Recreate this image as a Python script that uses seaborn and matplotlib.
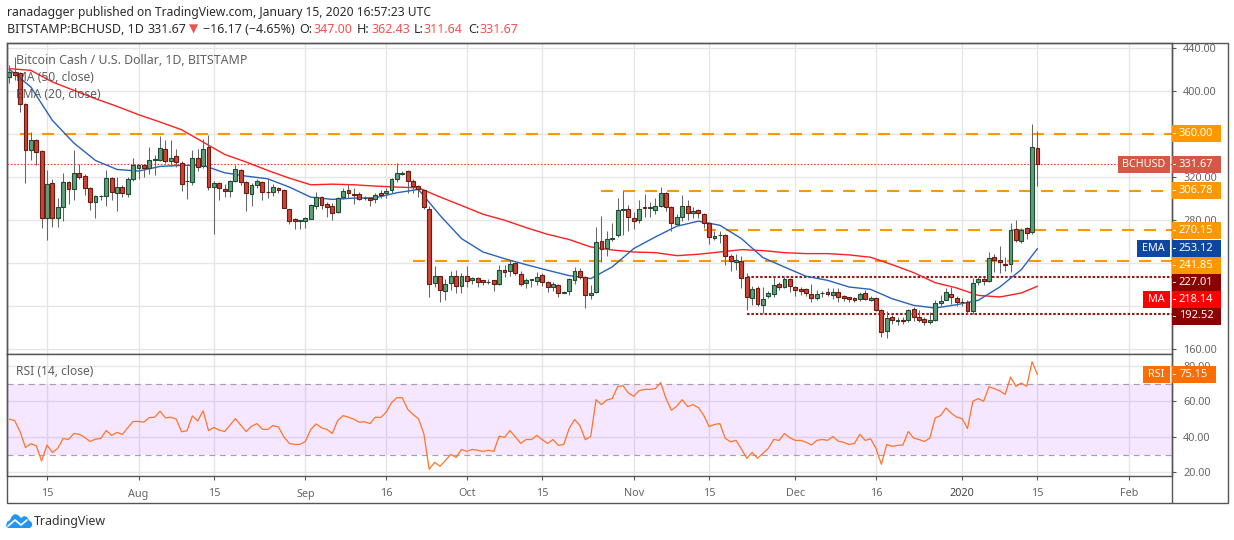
import numpy as np
import pandas as pd
import seaborn as sns
import matplotlib
matplotlib.use('Agg')
from matplotlib import pyplot as plt
import matplotlib.dates as mdates
from matplotlib.patches import Rectangle, Polygon

first_day = '2019-07-08'

opens = [413,418,417,388,345,354,344,282,314,282,292,315,309,324,321,310,297,302,302,319,305,311,304,318,328,331,328,336,336,346,
         335,339,333,316,315,338,330,348,311,314,309,307,316,326,315,304,312.5,315,306,306,310,308,290,281,279,279,281,293,301,295,
         293,287,301,308,304,304,300,300,299,305,305,308,318,323,325,316,311.5,307.5,290.5,221,227.6,213.7,221,227.6,218.4,227.6,224,226,223.5,222,
         223.5,220,233,232,240,229.5,221,224,223,229,222,217,219.6,212,213.7,224.3,232.6,227,210,213,260.6,254,262,266,289.5,290,282,280,
         291.5,291,289.5,293,305,292,276.5,283,293,286,289.5,285,277.4,263,265.7,266,246.6,240.7,242,226.4,207.5,216.8,200.6,209,210.9,220.5,217.4,225.2,
         217,215.2,215.8,211,207.5,211.5,213,210,213,208.7,207.8,206.8,206.5,212,205.6,207.5,196.3,176.4,189.8,186,186.6,186.6,197.2,189.8,187.6,185,
         187,202.5,205.6,211,207.5,203.7,203.7,195,222,225.2,223,245.4,243,239.2,239.2,271.5,260,272.4,268.9,347]
closes = [418,415,388,345,354,343,282,313,282,292,315,309,324,320,310,297,302,302.5,319,306,311,305,318,331,331,328,336,336.5,347,335,
          338,334,313,316.5,338,329,346,311,314,310,307,316,327,315,305,312.5,316.5,306,305.5,311,308,291,279,279,279.5,282,294,301,294,292,
          286,300,307,305,303,299.5,300,298,303,303,307,318,324,324,316.3,311.5,308.5,292,220.5,227.6,215,220.5,227.6,218.4,227.6,223,226,222,222,222.5,
          220,233,231,239,230.5,220,224,224.5,227,222,217.7,220.5,212,213,225,232.6,226.7,210,212,259.7,253,262,263.4,289.5,290,283,279,290.5,
          291,291.5,293,305,292,277,283,293,286.5,288.6,286.5,277.4,264,265.3,266,246,241.7,242.9,225.8,208,215.9,201.3,206.5,212,219.6,217.4,225.2,218.3,
          214.6,214,212,207.5,211,212,211,213,208,207.5,206.5,205.6,211,206.2,207.5,196.3,175.8,188.8,186.6,186.5,186,196.3,189.8,187,185.1,187,
          202.8,204.7,213,208,203.4,203.4,195,221.5,225.2,223,244.8,242.3,240.7,238,270.9,261.6,270.9,268,348.1,331.67]
highs = [424,432,418,389,362,355,345,326,318,300,324,316,345,332,323,311,303,303,326,320,320,312,320,338,332,332,348,340,358,354,
         354,346,335,330,345,346,355,359,316,315,313,317,331,327,316,314,318,316,318,313,311,309,290,282,280,283,295,306,302,297,
         296,301,310,313,310,306,302,301,305,308,310,319,333,325,326,318,312,308,293,237,228,225,232,233,230,237,227,227,224,225,
         224,238,238,243,241,232,226,225,231,230,223,222,220,214,226,236,235,228,219,273,284,270,277,300,307,294,287,298,
         304,297,300,311,306,293,285,303,298,292,290,286,278,270,270,267,248,248,246,230,218,218,217,214,227,222,227,226,
         218,217,216,220,215,214,216,216,216,210,208,208,213,215,209,208,197,195,191,189,189,197,199,196,189,194,
         205,210,216,217,209,207,205,226,227,227,250,248,256,245,277,280,272,273,369,362.43]
lows = [407,410,380,314,336,331,272,261,273,273,279,295,298,318,303,289,282,298,293,298,288,301,301,316,318,320,323,322,335,333,
        330,329,307,299,312,325,328,308,267,298,301,301,315,312,288,293,310,298,300,302,305,291,276,271,271,272,281,290,290,283,
        280,286,299,300,295,298,298,293,296,300,300,305,315,322,305,305,301,290.5,208,217,203,205,215,212,212,217,220,217,219,220,
        214,219,227,228,229,218,216,217,219,218,213,214,208,212,210,220,225,198,206,212,241,246,260,264,266,270,271,277,
        283,283,285,292,288,270,275,279,280,282,282,272,257,261,258,238,232,233,216,196,201,200,193,207,208,215,216,213,
        209,210,209,203,205,208,209,206,203,204,203,203,204,205,204,195,171,170,183,182,183,185,186,185,182,183,
        186,200,205,202,200,200,192,192,219,219,222,231,230,232,231,259,258,262,267,311.64]

ma_days = list(range(0, 189, 4)) + [191]
ma_values = [420.8,419.2,408.4,400.6,392.8,385.7,377.9,371.1,363.9,352.4,340.9,333.8,326,318.8,312.6,313.2,312.6,311.4,310.5,309.8,
             301.3,293.3,285.2,279.6,272.7,266.5,261.6,254.7,251.9,250,249.4,246.6,247.9,250,
             252.2,251.3,249.4,248.5,248.5,247.3,245.1,238.2,230.8,221.4,216.5,209.6,208.1,211.8,218.14]
ema_values = [420.2,403.7,372.6,351.5,335.3,326.9,325.4,329.7,330.7,330.7,323.8,320.7,318.2,310.5,301.1,299,300.2,300.5,305.2,308.3,
              284.2,262.5,250,243.8,238.2,233,228,225.2,236.1,253.2,264,274,278.7,274.9,
              262.5,244.8,236,227.4,223.6,217.4,215.2,206.5,200.3,197.8,200.9,205,217.4,233.6,253.12]

rsi_values = [50,49.2,42.9,34,36.1,35,26.4,35.4,31.2,33.5,39.1,38.5,41.9,41.4,39.7,37.4,38.7,39.1,43.6,40.8,42.5,41.4,45.1,48.7,48.7,48.3,50.9,51.1,54.5,50.7,
              51.1,50,42.9,43.4,51.8,49,54.7,43.6,45.3,43.8,43,46.6,50.3,46.6,43,46,47.5,44.3,44.2,46.4,45.5,40,36.3,35.7,35.7,37.4,44.2,47.3,45.1,44.2,
              41.9,49.2,52,51.1,50,48.3,48.5,47.5,51.1,50.9,53.9,59.3,62.1,62.1,55.6,52.6,50.3,41.9,21.7,25.6,23.4,26.6,30.1,28.4,32.9,31.8,32.9,32.4,31.8,32.4,
              31.8,40.4,39.7,43.6,40,36.3,38.5,38.5,40.8,38.4,36.3,38.5,35.2,35.7,44.7,49.8,46.4,38.4,40.2,61,58.2,60.8,61.6,68.3,68.9,64.8,62.9,66.1,66.8,66.8,
              67.2,70.6,61.6,55,57.3,61,57.1,58.2,56.5,52.2,45.8,47,47.5,39.1,37.2,38,33.1,27.9,31.2,27.9,30.7,33.5,38.5,38,41.9,39.5,38,38,37,35.4,38,38.5,
              38,40.2,37.6,36.9,35.7,36.3,41.4,38,38.9,33.5,24.5,35.7,34.6,35.2,35.4,43,39.3,38.5,37.4,39.3,50.7,52,56.3,53.3,51.1,50.3,44.7,60.1,61.6,60.1,
              68.3,67.2,65.9,64,73.8,68.5,70.4,68.5,82.4,75.15]

price_ticks = [160,200,240,280,320,360,400,440]
price_labels = ['160.00','','','280.00','320.00','','400.00','440.00']  # the rest sit under the tags
rsi_ticks = [20,40,60,80]
date_ticks = ['2019-07-15','2019-08-01','2019-08-15','2019-09-01','2019-09-16','2019-10-01','2019-10-15','2019-11-01','2019-11-15',
              '2019-12-01','2019-12-16','2020-01-01','2020-01-15','2020-02-01']
date_labels = ['15','Aug','15','Sep','16','Oct','15','Nov','15','Dec','16','2020','15','Feb']

# level, first date of the drawn line
orange_levels = [(360.00,'2019-07-10'),(306.78,'2019-10-26'),(270.15,'2019-11-14'),(241.85,'2019-09-21')]
support_levels = [(227.01,'2019-11-22'),(192.52,'2019-11-22')]
last_price = 331.67

W, H = 1234, 540
sns.set_theme(style='white')
plt.rcParams['font.family'] = ['Noto Sans', 'DejaVu Sans']

fig = plt.figure(figsize=(W/100, H/100), dpi=100, facecolor='white')

def fx(px):
    return px/W

def fy(py):
    return 1 - py/H

def pane(left, top, right, bottom):
    return fig.add_axes([fx(left), fy(bottom), (right-left)/W, (bottom-top)/H])

ax = pane(7, 43, 1171.5, 354.3)
ax2 = pane(7, 354.3, 1171.5, 476)

days = pd.date_range(first_day, periods=len(closes), freq='D')
ma_dates = pd.Timestamp(first_day) + pd.to_timedelta(ma_days, unit='D')
tick_dates = pd.to_datetime(date_ticks)
day0 = mdates.date2num(pd.Timestamp(first_day))
line_end = days[0] + pd.Timedelta(days=216)

GRID = '#e6e6e6'
for a in (ax, ax2):
    a.set_facecolor('white')
    a.set_axisbelow(True)
    a.set_xticks(tick_dates)
    a.grid(True, color=GRID, lw=1.0)
    a.yaxis.tick_right()
    a.set_xlim(day0 - 0.43, day0 + 215.9)
    for s in a.spines.values():
        s.set_color('#555555')
        s.set_linewidth(1.0)
    a.tick_params(axis='y', length=3, width=0.8, color='#555555', labelcolor='#666666', labelsize=7.8, pad=5.5, right=True)

""" Price pane """
ax.set_ylim(154.7, 444.7)
ax.set_yticks(price_ticks)
ax.set_yticklabels(price_labels)
ax.tick_params(axis='x', length=0, labelbottom=False)

for level, start in orange_levels:
    ax.hlines(level, pd.Timestamp(start), line_end, color='#ff9800', lw=1.5,
              linestyles=[(0, (5.76, 4.8))], zorder=2)
for level, start in support_levels:
    ax.hlines(level, pd.Timestamp(start), line_end, color='#8b0000', lw=1.5,
              linestyles=[(0, (1.2, 0.9))], zorder=2, alpha=0.9)
ax.axhline(last_price, color='#e5402a', lw=0.8, ls=(0, (1.5, 1.5)), zorder=2)

sns.lineplot(x=ma_dates, y=ma_values, ax=ax, color='#ff1f1f', lw=1.0, estimator=None, sort=False, zorder=3)
sns.lineplot(x=ma_dates, y=ema_values, ax=ax, color='#2a62b8', lw=1.0, estimator=None, sort=False, zorder=3)

o = np.array(opens, dtype=float)
c = np.array(closes, dtype=float)
up = c >= o
ax.vlines(days, lows, highs, color='#666666', lw=0.75, zorder=4)
ax.bar(days[up], (c-o)[up], bottom=o[up], width=0.72, color='#5f9f78', edgecolor='#1e4d35', linewidth=0.8, zorder=5)
ax.bar(days[~up], (c-o)[~up], bottom=o[~up], width=0.72, color='#cc4433', edgecolor='#6e1a12', linewidth=0.8, zorder=5)
ax.set_xlabel('')
ax.set_ylabel('')

""" RSI pane """
ax2.set_ylim(17.9, 86.6)
ax2.set_yticks(rsi_ticks)
ax2.set_yticklabels(['%.2f' % p for p in rsi_ticks])
ax2.set_xticklabels(date_labels)
ax2.tick_params(axis='x', length=3, width=0.8, color='#555555', labelcolor='#666666', labelsize=7.8, pad=6, bottom=True)
for lab in ax2.get_xticklabels():
    if lab.get_text() == '2020':
        lab.set_color('#444444')

ax2.axhspan(30, 70, color='#9915ff', alpha=0.1, lw=0, zorder=1)
for level in (30, 70):
    ax2.axhline(level, color='#a79fa9', lw=0.85, ls=(0, (5, 4)), zorder=2)
sns.lineplot(x=days, y=rsi_values, ax=ax2, color='#ff7428', lw=0.9, estimator=None, sort=False, zorder=3)
ax2.set_xlabel('')
ax2.set_ylabel('')

""" Frame and right hand tags """
fig.add_artist(Rectangle((fx(7), fy(503.3)), (1227.7-7)/W, (503.3-43)/H, fill=False, ec='#555555', lw=1.0, zorder=2))
fig.add_artist(plt.Line2D([fx(1171.5)]*2, [fy(43), fy(503.3)], color='#555555', lw=1.0, zorder=2))

def box(x0, x1, yc, bg, h=17):
    fig.add_artist(Rectangle((fx(x0), fy(yc+h/2)), (x1-x0)/W, h/H, color=bg, lw=0, zorder=5))

def value_tag(yc, text, bg, x1=1221, side=None, side_x=None):
    box(1171.5, x1, yc, bg)
    fig.add_artist(Rectangle((fx(1172.5), fy(yc+0.5)), 3/W, 1/H, color='white', lw=0, zorder=7))
    fig.text(fx(1196 if x1 == 1221 else 1194), fy(yc), text, color='white', fontsize=8.0, fontweight='bold',
             ha='center', va='center', zorder=6)
    if side:
        box(side_x, 1170, yc, bg)
        fig.text(fx((side_x+1169)/2), fy(yc), side, color='white', fontsize=7.8, fontweight='semibold',
                 ha='center', va='center', zorder=6)

ORANGE = '#ff9800'
DARK = '#8b0000'
value_tag(133.3, '360.00', ORANGE)
value_tag(164.3, '331.67', '#d65746', side='BCHUSD', side_x=1118)
value_tag(190.3, '306.78', ORANGE)
value_tag(230.3, '270.15', ORANGE)
value_tag(248.3, '253.12', '#0d47a1', side='EMA', side_x=1137)
value_tag(265.3, '241.85', ORANGE)
value_tag(282.3, '227.01', DARK)
value_tag(299.3, '218.14', '#ff0000', side='MA', side_x=1143)
value_tag(316.0, '192.52', DARK)
value_tag(374.5, '75.15', '#ff6d00', x1=1216, side='RSI', side_x=1143)

""" Legends inside the panes """
fig.text(fx(15.5), fy(60.5), 'Bitcoin Cash / U.S. Dollar, 1D, BITSTAMP', color='#444444', alpha=0.85, fontsize=8.9, va='center', zorder=8)
for y, txt in [(77.5, 'MA (50, close)'), (95, 'EMA (20, close)'), (371.7, 'RSI (14, close)')]:
    fig.text(fx(15.5), fy(y), txt, color='#444444', alpha=0.85, fontsize=8.7, va='center', zorder=8)

""" Header """
renderer = fig.canvas.get_renderer()
DK = '#2b2b2b'
RD = '#ef5350'

t = fig.text(fx(7), fy(12.5), 'ranadagger', color=DK, fontweight='bold', fontsize=8.8, va='center')
fig.text(fx(t.get_window_extent(renderer).x1 + 3.5), fy(12.5), 'published on TradingView.com, January 15, 2020 16:57:23 UTC',
         color=DK, fontsize=8.7, va='center')

header_runs = [(7, 'BITSTAMP:BCHUSD, 1D', DK, 'bold', 9.0), (147, '331.67', DK, 'normal', 9.0), (189, '\u25bc', RD, 'normal', 8.6),
               (203, '\u221216.17 (\u22124.65%)', DK, 'normal', 9.0), (299, 'O:', DK, 'bold', 9.0), (313, '347.00', RD, 'normal', 9.0),
               (357, 'H:', DK, 'bold', 9.0), (371, '362.43', RD, 'normal', 9.0), (414, 'L:', DK, 'bold', 9.0), (423, '311.64', RD, 'normal', 9.0),
               (468, 'C:', DK, 'bold', 9.0), (479, '331.67', RD, 'normal', 9.0)]
for x, txt, col, weight, size in header_runs:
    fig.text(fx(x), fy(29.5), txt, color=col, fontweight=weight, fontsize=size, va='center')

""" Footer logo """
logo = [(6,526),(7,522),(10,520),(12,516),(15,514),(18,515),(21,518),(24,516),(27,517),(29,520),(32,523),(32,526),(30,528),(8,528)]
fig.add_artist(Polygon([(fx(a), fy(b)) for a, b in logo], closed=True, color='#2196f3', lw=0, zorder=4))
fig.add_artist(plt.Line2D([fx(a) for a in (8,15,21,27)], [fy(b) for b in (526,520,525,520)], color='white', lw=1.2, zorder=5))
fig.text(fx(34), fy(521.7), 'TradingView', color='#333333', fontsize=8.9, va='center')

fig.savefig('out.png', dpi=100, facecolor='white')
